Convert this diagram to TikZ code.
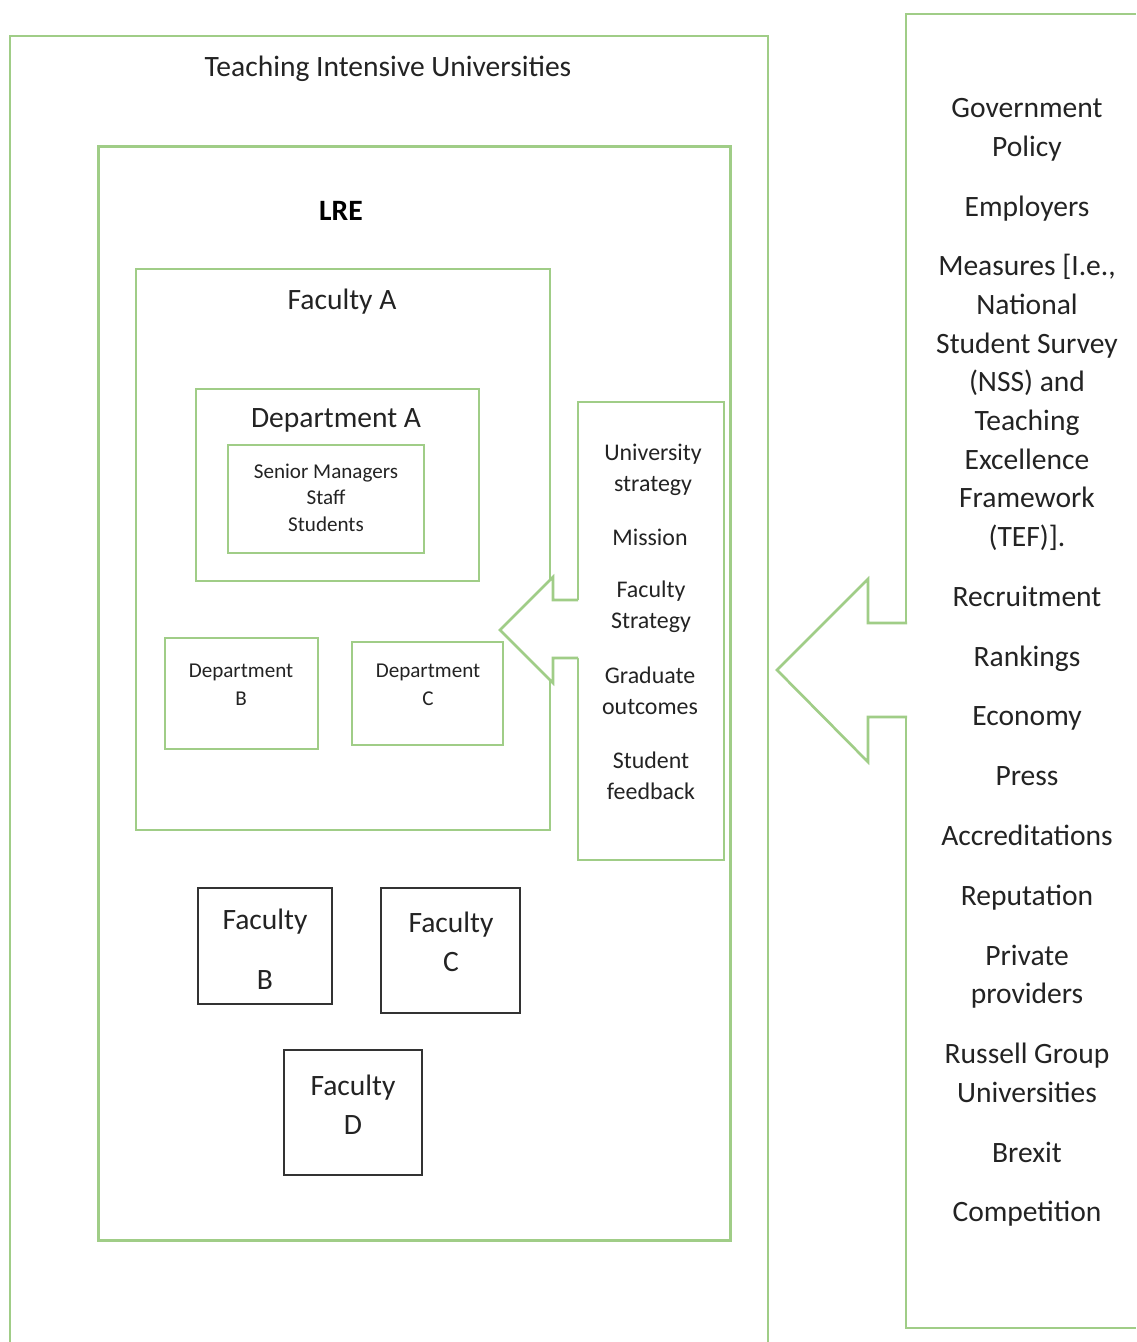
\documentclass[tikz,border=0pt]{standalone}
\usepackage{fontspec}
\setmainfont{Carlito}
\usetikzlibrary{positioning}
\definecolor{boxgreen}{RGB}{160,205,135}
\definecolor{textgray}{RGB}{35,35,35}

\begin{document}
\begin{tikzpicture}[
    x=0.01cm,
    y=-0.01cm,
    gbox/.style={
        draw=boxgreen,
        rectangle,
        line width=0.75pt,
        inner sep=0pt
    },
    kbox/.style={
        draw=black!80,
        rectangle,
        line width=0.65pt,
        inner sep=0pt
    },
    txt/.style={
        text=textgray,
        align=center,
        inner sep=0pt,
        yshift=-0.025cm,
        font=\fontsize{8.4}{11}\selectfont
    },
    smalltxt/.style={txt, font=\fontsize{6}{7.5}\selectfont},
    midtxt/.style={txt, font=\fontsize{6.8}{8.8}\selectfont},
    greenline/.style={draw=boxgreen, line width=0.75pt, line join=miter}
]
\useasboundingbox (0,0) rectangle (1136,1342);

% Outer frames
\draw [greenline] (10,1342) -- (10,36) -- (768,36) -- (768,1342);
\draw [greenline] (1136,14) -- (906,14) -- (906,1328) -- (1136,1328);
\node [txt] (tiu) at (388,66) {Teaching Intensive Universities};

% Boxes
\node [gbox, minimum width=6.31cm, minimum height=10.93cm] (lre) at (414.5,693.5) {};
\node [gbox, minimum width=4.14cm, minimum height=5.61cm] (facA) at (343,549.5) {};
\node [gbox, minimum width=2.83cm, minimum height=1.92cm] (deptA) at (337.5,485) {};
\node [gbox, minimum width=1.96cm, minimum height=1.08cm] (people) at (326,499) {};
\node [gbox, minimum width=1.53cm, minimum height=1.11cm] (deptB) at (241.5,693.5) {};
\node [gbox, minimum width=1.51cm, minimum height=1.03cm] (deptC) at (427.5,693.5) {};
\node [gbox, minimum width=1.46cm, minimum height=4.58cm] (strat) at (651,631) {};
\node [kbox, minimum width=1.34cm, minimum height=1.16cm] (facB) at (265,946) {};
\node [kbox, minimum width=1.39cm, minimum height=1.25cm] (facC) at (450.5,950.5) {};
\node [kbox, minimum width=1.38cm, minimum height=1.25cm] (facD) at (353,1112.5) {};

% Labels
\node [txt, font=\fontsize{8.4}{11}\selectfont\bfseries, text=black] (lreT) at (341,208) {LRE};
\node [txt] (facAT) at (342,299) {Faculty A};
\node [txt] (deptAT) at (336,418) {Department A};
\node [smalltxt] (peopleT) at (326,495) {Senior Managers\\Staff\\Students};
\node [smalltxt, font=\fontsize{6}{8}\selectfont] (deptBT) at (241,682) {Department\\B};
\node [smalltxt, font=\fontsize{6}{8}\selectfont] (deptCT) at (428,682) {Department\\C};
\node [midtxt] (s1) at (653,467) {University\\strategy};
\node [midtxt] (s2) at (650,535) {Mission};
\node [midtxt] (s3) at (651,604) {Faculty\\Strategy};
\node [midtxt] (s4) at (650,688) {Graduate\\outcomes};
\node [midtxt] (s5) at (651,773) {Student\\feedback};
\node [txt] (facBT) at (265,947) {Faculty\\[6pt]B};
\node [txt] (facCT) at (451,939) {Faculty\\C};
\node [txt] (facDT) at (353,1102) {Faculty\\D};
\node [txt] (drivers) at (1027,660) {Government\\Policy\\[6pt]
    Employers\\[6pt]
    Measures [I.e.,\\National\\Student Survey\\(NSS) and\\Teaching\\Excellence\\Framework\\(TEF)].\\[6pt]
    Recruitment\\[6pt]
    Rankings\\[6pt]
    Economy\\[6pt]
    Press\\[6pt]
    Accreditations\\[6pt]
    Reputation\\[6pt]
    Private\\providers\\[6pt]
    Russell Group\\Universities\\[6pt]
    Brexit\\[6pt]
    Competition};

% Arrows
\fill [white] (580,600) -- (553,600) -- (553,577) -- (500,630) -- (553,683) -- (553,658) -- (580,658) -- cycle;
\draw [greenline] (578,600) -- (553,600) -- (553,577) -- (500,630) -- (553,683) -- (553,658) -- (578,658);
\fill [white] (909,623) -- (868,623) -- (868,579) -- (777,670) -- (868,762) -- (868,717) -- (909,717) -- cycle;
\draw [greenline] (907,623) -- (868,623) -- (868,579) -- (777,670) -- (868,762) -- (868,717) -- (907,717);

\end{tikzpicture}
\end{document}
